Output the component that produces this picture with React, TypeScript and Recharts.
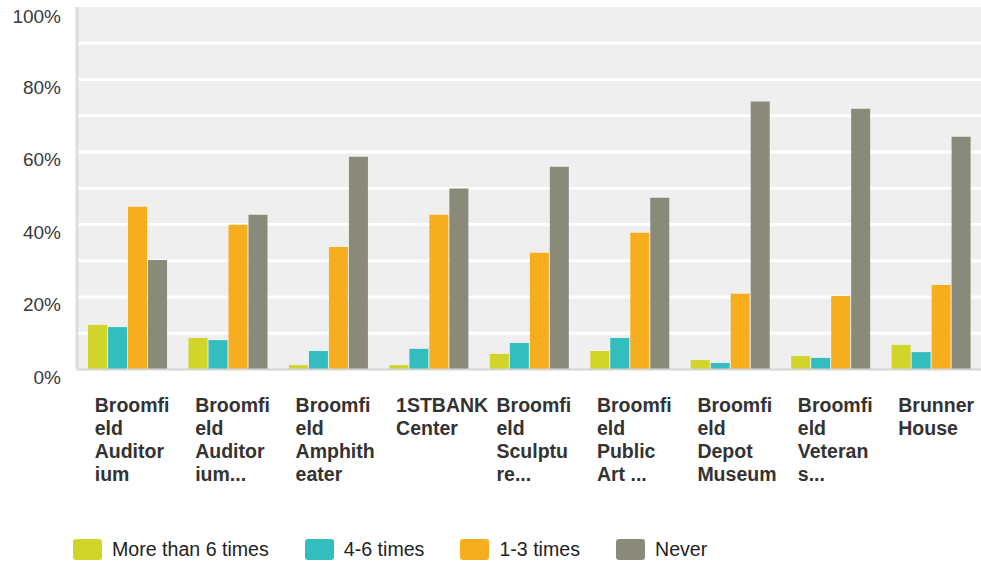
import { BarChart, Bar, XAxis, YAxis, CartesianGrid } from 'recharts'

const venues = [
  'Broomfi\neld\nAuditor\nium',
  'Broomfi\neld\nAuditor\nium...',
  'Broomfi\neld\nAmphith\neater',
  '1STBANK\nCenter',
  'Broomfi\neld\nSculptu\nre...',
  'Broomfi\neld\nPublic\nArt ...',
  'Broomfi\neld\nDepot\nMuseum',
  'Broomfi\neld\nVeteran\ns...',
  'Brunner\nHouse',
]

const moreThan6 = [12.3, 8.7, 1.2, 1.2, 4.3, 5.1, 2.6, 3.7, 6.8]
const fourToSix = [11.7, 8.1, 5.1, 5.7, 7.3, 8.7, 1.8, 3.2, 4.8]
const oneToThree = [44.9, 39.9, 33.8, 42.7, 32.2, 37.7, 20.9, 20.3, 23.3]
const never = [30.2, 42.7, 58.7, 49.9, 55.9, 47.4, 73.9, 71.9, 64.2]

const yTicks = [0, 20, 40, 60, 80, 100]
const gridValues = [10, 20, 30, 40, 50, 60, 70, 80, 90]

const series = [
  { key: 'more', name: 'More than 6 times', color: '#d1d52a', values: moreThan6 },
  { key: 'four', name: '4-6 times', color: '#33bdbf', values: fourToSix },
  { key: 'one', name: '1-3 times', color: '#f6ae1f', values: oneToThree },
  { key: 'never', name: 'Never', color: '#8a8a7a', values: never },
]

const data = venues.map((v, i) => {
  const row: Record<string, string | number> = { venue: v }
  for (const s of series) row[s.key] = s.values[i]
  return row
})

const FONT = '"Liberation Sans", Arial, sans-serif'

function YTick({ x, y, payload }: any) {
  return (
    <text x={x - 8} y={y + 14} textAnchor="end" fontSize={19} fill="#3a3a3a" fontFamily={FONT}>
      {payload.value}%
    </text>
  )
}

function XTick({ x, y, payload }: any) {
  const lines = String(payload.value).split('\n')
  return (
    <text x={x - 32.5} y={y + 34} textAnchor="start" fontSize={19.5} fontWeight="bold" fill="#333" fontFamily={FONT}>
      {lines.map((l, i) => (
        <tspan key={i} x={x - 32.5} dy={i === 0 ? 0 : 23.3}>{l}</tspan>
      ))}
    </text>
  )
}

export default function App() {
  return (
    <div style={{ position: 'absolute', left: 0, top: 0, width: 981, height: 564, fontFamily: FONT }}>
      <BarChart
        width={981}
        height={564}
        data={data}
        margin={{ top: 7, right: 0, left: 0, bottom: 0 }}
        barCategoryGap="11%"
        barGap={1}
      >
        <CartesianGrid vertical={false} horizontalValues={gridValues} stroke="#ffffff" strokeWidth={3} fill="#efefef" />
        <XAxis
          dataKey="venue"
          height={194.5}
          interval={0}
          tickLine={false}
          axisLine={{ stroke: '#d4d4d4', strokeWidth: 2 }}
          tick={<XTick />}
        />
        <YAxis
          width={77}
          domain={[0, 100]}
          ticks={yTicks}
          tickLine={false}
          axisLine={{ stroke: '#dddddd', strokeWidth: 3 }}
          tick={<YTick />}
        />
        {series.map((s) => (
          <Bar key={s.key} dataKey={s.key} name={s.name} fill={s.color} isAnimationActive={false} />
        ))}
      </BarChart>
      <div style={{ position: 'absolute', left: 73, top: 539, display: 'flex', alignItems: 'center' }}>
        {series.map((s) => (
          <div key={s.key} style={{ display: 'flex', alignItems: 'center', marginRight: 36 }}>
            <div style={{ width: 29, height: 21, borderRadius: 3, background: s.color, marginRight: 10 }} />
            <span style={{ fontSize: 19.6, color: '#222', lineHeight: '21px' }}>{s.name}</span>
          </div>
        ))}
      </div>
    </div>
  )
}
